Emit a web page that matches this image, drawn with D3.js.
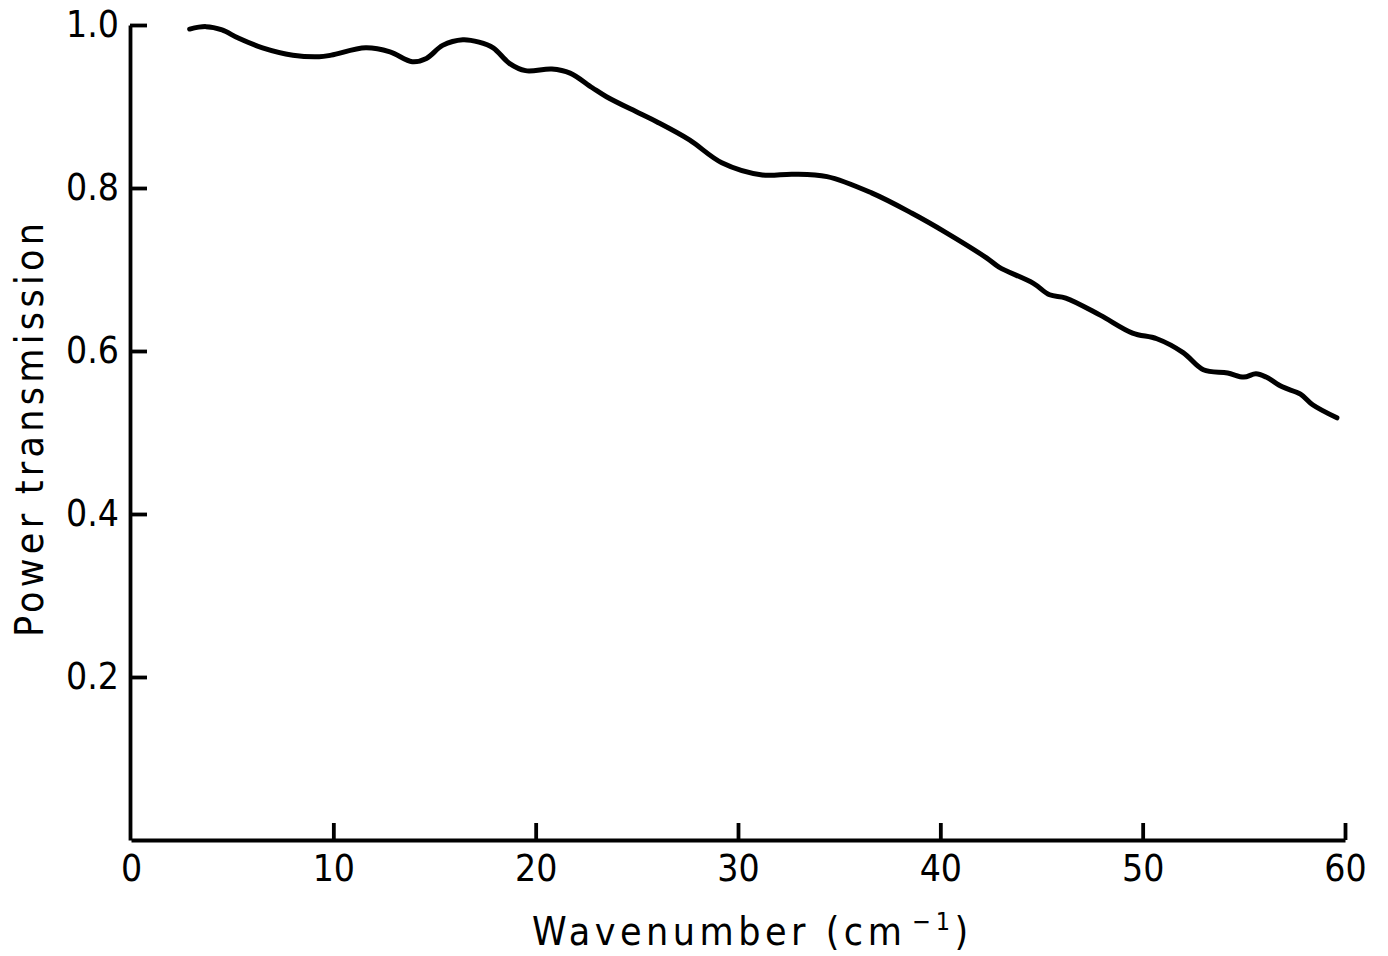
<!DOCTYPE html>
<html>
<head>
<meta charset="utf-8">
<script src="https://cdn.jsdelivr.net/npm/d3@7"></script>
<style>
  html, body { margin: 0; padding: 0; background: #fff; }
  svg { display: block; }
  text { font-family: "DejaVu Sans Condensed", "DejaVu Sans", sans-serif; fill: #000; }
</style>
</head>
<body>
<svg id="chart" width="1388" height="956"></svg>
<script>
// Data
const wavenumber = [2.9, 3.7, 4.5, 5.3, 6.5, 8.0, 9.3, 9.9, 11.6, 12.8, 13.9, 14.6, 15.4, 16.4, 17.2, 17.9, 18.7, 19.5, 20.8, 21.7, 22.8, 23.5, 25.1, 26.0, 27.6, 29.2, 31.2, 32.7, 34.4, 36.6, 38.6, 40.3, 42.3, 42.9, 44.6, 45.4, 46.2, 47.9, 49.5, 50.7, 52.0, 53.0, 54.2, 55.0, 55.6, 56.1, 56.9, 57.8, 58.4, 59.6];
const transmission = [0.995, 0.998, 0.994, 0.984, 0.972, 0.963, 0.961, 0.963, 0.972, 0.967, 0.955, 0.959, 0.975, 0.982, 0.979, 0.972, 0.953, 0.944, 0.946, 0.941, 0.923, 0.912, 0.892, 0.881, 0.859, 0.831, 0.816, 0.817, 0.814, 0.794, 0.769, 0.745, 0.714, 0.703, 0.683, 0.669, 0.665, 0.644, 0.622, 0.615, 0.598, 0.577, 0.573, 0.568, 0.572, 0.568, 0.556, 0.547, 0.534, 0.518];
const xTicks = [0, 10, 20, 30, 40, 50, 60];
const yTicks = [0.2, 0.4, 0.6, 0.8, 1.0];
const xTitle = "Wavenumber (cm";
const xTitleSup = "\u22121";
const yTitle = "Power transmission";

const svg = d3.select("#chart");
const margin = {left: 131, top: 25, right: 43, bottom: 116};
const W = 1388, H = 956;

const x = d3.scaleLinear().domain([0, 60]).range([margin.left, W - margin.right]);
const y = d3.scaleLinear().domain([0, 1]).range([H - margin.bottom, margin.top]);

const stroke = 3.8;
const tickFont = 37;

// X axis
const gx = svg.append("g")
  .attr("transform", `translate(0,${y(0)})`)
  .call(d3.axisBottom(x).tickValues(xTicks).tickSize(-17).tickSizeOuter(0).tickPadding(13).tickFormat(d3.format("d")));
gx.select(".domain").attr("stroke-width", stroke);
gx.selectAll(".tick line").attr("stroke-width", stroke);
gx.selectAll(".tick").filter(d => d === 0).select("line").remove();
gx.selectAll(".tick text").attr("font-size", tickFont).attr("dy", "0.76em")
  .style("font-family", "'DejaVu Sans Condensed','DejaVu Sans',sans-serif");

// Y axis
const gy = svg.append("g")
  .attr("transform", `translate(${x(0) - 1},0)`)
  .call(d3.axisLeft(y).tickValues(yTicks).tickSize(-17).tickSizeOuter(0).tickPadding(11).tickFormat(d3.format(".1f")));
gy.select(".domain").attr("stroke-width", stroke);
gy.selectAll(".tick line").attr("stroke-width", stroke);
gy.selectAll(".tick text").attr("font-size", tickFont)
  .style("font-family", "'DejaVu Sans Condensed','DejaVu Sans',sans-serif");

// Curve
const pts = wavenumber.map((w, i) => [w, transmission[i]]);
const line = d3.line().x(d => x(d[0])).y(d => y(d[1])).curve(d3.curveCatmullRom.alpha(0.5));
svg.append("path")
  .datum(pts)
  .attr("d", line)
  .attr("fill", "none")
  .attr("stroke", "#000")
  .attr("stroke-width", 5)
  .attr("stroke-linecap", "round")
  .attr("stroke-linejoin", "round");

// X title
const xt = svg.append("text")
  .attr("x", 532)
  .attr("y", 945)
  .attr("font-size", 39)
  .attr("letter-spacing", 4.5);
xt.append("tspan").text(xTitle);
xt.append("tspan").attr("dy", -15).attr("font-size", 25).attr("dx", 6).text(xTitleSup);
xt.append("tspan").attr("dy", 15).attr("font-size", 39).text(")");

// Y title
svg.append("text")
  .attr("transform", `translate(43,637) rotate(-90)`)
  .attr("font-size", 39)
  .attr("textLength", 414)
  .attr("lengthAdjust", "spacing")
  .text(yTitle);
</script>
</body>
</html>
